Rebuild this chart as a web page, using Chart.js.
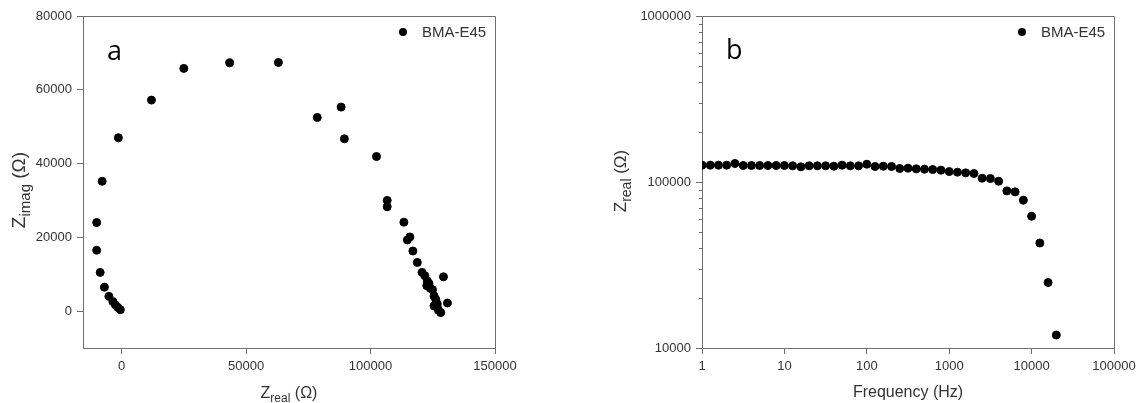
<!DOCTYPE html>
<html>
<head>
<meta charset="utf-8">
<script src="https://cdn.jsdelivr.net/npm/chart.js@4.4.0/dist/chart.umd.min.js"></script>
<style>
  html, body { margin: 0; padding: 0; background: #fff; }
  #wrapA { position: absolute; left: 0; top: 0; width: 560px; height: 403px; }
  #wrapB { position: absolute; left: 560px; top: 0; width: 583px; height: 403px; }
</style>
</head>
<body>
<div id="wrapA"><canvas id="nyquistChart" width="560" height="403"></canvas></div>
<div id="wrapB"><canvas id="bodeChart" width="583" height="403"></canvas></div>
<script>
const seriesLabel = "BMA-E45";

// panel a - Nyquist plot (Ohm)
const zReal = [-10000, -10000, -8600, -6900, -5100, -3500, -2500, -1500, -500,
  -7800, -1300, 12000, 25000, 43400, 63000, 78600, 88200, 89500, 102400, 106700, 106700,
  113400, 114800, 115800, 117000, 118800, 120700, 121800, 122800, 122600, 123500, 124000,
  124900, 125500, 126200, 126800, 125500, 126900, 127300, 128200, 129300, 130900];
const zImag = [24000, 16500, 10500, 6500, 4000, 2600, 1700, 1000, 400,
  35200, 47000, 57200, 65800, 67300, 67400, 52500, 55300, 46700, 41900, 30000, 28300,
  24100, 19300, 20100, 16300, 13200, 10500, 9600, 8200, 6900, 7500, 6200,
  5800, 4100, 3200, 2000, 1400, 1000, 200, -400, 9300, 2200];
const xTicksA = [0, 50000, 100000, 150000];
const yTicksA = [0, 20000, 40000, 60000, 80000];

// panel b - Zreal vs frequency
const freqHz = [1, 1.259, 1.585, 1.995, 2.512, 3.162, 3.981, 5.012, 6.31, 7.943,
  10, 12.59, 15.85, 19.95, 25.12, 31.62, 39.81, 50.12, 63.1, 79.43,
  100, 125.9, 158.5, 199.5, 251.2, 316.2, 398.1, 501.2, 631, 794.3,
  1000, 1259, 1585, 1995, 2512, 3162, 3981, 5012, 6310, 7943,
  10000, 12589, 15849, 19953];
const zRealB = [126300, 126300, 126300, 126300, 129200, 125700, 125700, 125700, 125700, 125700,
  125700, 125100, 123400, 125100, 125100, 125100, 124500, 126300, 125100, 125100,
  128000, 124000, 124500, 124000, 120600, 121100, 120000, 119500, 118900, 117800,
  115600, 114600, 113500, 112500, 105400, 104900, 101100, 88400, 87200, 77700,
  62200, 42900, 24800, 11970];
const xTicksB = [1, 10, 100, 1000, 10000, 100000];
const yTicksB = [10000, 100000, 1000000];
const yMinorTicksB = [20000, 30000, 40000, 50000, 60000, 70000, 80000, 90000,
  200000, 300000, 400000, 500000, 600000, 700000, 800000, 900000];

const FONT = "'Liberation Sans', Arial, sans-serif";
const TEXT = "#333333";
const AXIS = "#707070";

function drawRich(ctx, parts, x, y, angle) {
  ctx.save();
  ctx.translate(x, y);
  ctx.rotate(angle);
  ctx.textAlign = "left";
  ctx.textBaseline = "alphabetic";
  ctx.fillStyle = TEXT;
  let total = 0;
  parts.forEach(p => {
    ctx.font = p.size + "px " + FONT;
    p.w = ctx.measureText(p.text).width;
    total += p.w;
  });
  let cursor = -total / 2;
  parts.forEach(p => {
    ctx.font = p.size + "px " + FONT;
    ctx.fillText(p.text, cursor, p.dy || 0);
    cursor += p.w;
  });
  ctx.restore();
}

// frame, titles with subscripts, panel letter, legend, minor ticks
const decor = {
  id: "decor",
  afterDraw(chart, args, opts) {
    const ctx = chart.ctx;
    const a = chart.chartArea;
    ctx.save();
    ctx.strokeStyle = AXIS;
    ctx.lineWidth = 1;
    ctx.beginPath();
    ctx.moveTo(a.left, Math.round(a.top) + 0.5);
    ctx.lineTo(Math.round(a.right) + 0.5, Math.round(a.top) + 0.5);
    ctx.lineTo(Math.round(a.right) + 0.5, a.bottom);
    ctx.stroke();

    if (opts.minorTicks) {
      const ys = chart.scales.y;
      ctx.beginPath();
      opts.minorTicks.forEach(v => {
        const py = Math.round(ys.getPixelForValue(v)) + 0.5;
        ctx.moveTo(a.left - 3, py);
        ctx.lineTo(a.left, py);
      });
      ctx.stroke();
    }

    // panel letter
    ctx.fillStyle = "#000";
    ctx.font = "27px 'Open Sans', sans-serif";
    ctx.textBaseline = "alphabetic";
    ctx.fillText(opts.letter, opts.letterX, opts.letterY);

    // legend
    const ly = a.top + 16;
    ctx.beginPath();
    ctx.arc(a.right - 92, ly, 4, 0, Math.PI * 2);
    ctx.fill();
    ctx.fillStyle = TEXT;
    ctx.font = "15px " + FONT;
    ctx.textBaseline = "middle";
    ctx.fillText(chart.data.datasets[0].label, a.right - 73, ly + 1);
    ctx.restore();

    drawRich(ctx, opts.xTitle, (a.left + a.right) / 2, opts.xTitleY, 0);
    drawRich(ctx, opts.yTitle, opts.yTitleX, opts.yTitleY, -Math.PI / 2);
  }
};

function axis(ticksList, fitKey, fitSize, extra) {
  return Object.assign({
    grid: { display: true, drawOnChartArea: false, drawTicks: true, tickLength: 6, color: AXIS },
    border: { display: true, color: AXIS },
    ticks: {
      color: TEXT, padding: 5, autoSkip: false, maxRotation: 0,
      font: { family: FONT, size: 13 },
      callback: v => String(v)
    },
    afterBuildTicks: s => { s.ticks = ticksList.map(v => ({ value: v })); },
    afterFit: s => { s[fitKey] = fitSize; }
  }, extra);
}

const pointStyle = {
  showLine: false,
  pointRadius: 4,
  pointHoverRadius: 4,
  pointBackgroundColor: "#000",
  pointBorderColor: "#000",
  pointBorderWidth: 1
};

new Chart(document.getElementById("nyquistChart").getContext("2d"), {
  type: "scatter",
  data: {
    datasets: [Object.assign({
      label: seriesLabel,
      data: zReal.map((x, i) => ({ x: x, y: zImag[i] }))
    }, pointStyle)]
  },
  options: {
    responsive: false,
    animation: false,
    layout: { padding: { left: 0, top: 16, right: 65, bottom: 0 } },
    plugins: {
      legend: { display: false },
      tooltip: { enabled: false },
      decor: {
        letter: "a", letterX: 107, letterY: 60,
        xTitle: [{ text: "Z", size: 16 }, { text: "real", size: 12, dy: 4 }, { text: " (\u03A9)", size: 16 }],
        xTitleY: 398,
        yTitle: [{ text: "Z", size: 19 }, { text: "imag", size: 15, dy: 5 }, { text: " (\u03A9)", size: 19 }],
        yTitleX: 25, yTitleY: 190
      }
    },
    scales: {
      x: axis(xTicksA, "height", 55, { type: "linear", min: -15500, max: 150000 }),
      y: axis(yTicksA, "width", 83, { type: "linear", min: -10000, max: 80000 })
    }
  },
  plugins: [decor]
});

new Chart(document.getElementById("bodeChart").getContext("2d"), {
  type: "scatter",
  data: {
    datasets: [Object.assign({
      label: seriesLabel,
      data: freqHz.map((f, i) => ({ x: f, y: zRealB[i] }))
    }, pointStyle)]
  },
  options: {
    responsive: false,
    animation: false,
    layout: { padding: { left: 0, top: 16, right: 29, bottom: 0 } },
    plugins: {
      legend: { display: false },
      tooltip: { enabled: false },
      decor: {
        letter: "b", letterX: 166, letterY: 59,
        minorTicks: yMinorTicksB,
        xTitle: [{ text: "Frequency (Hz)", size: 16 }],
        xTitleY: 397,
        yTitle: [{ text: "Z", size: 17 }, { text: "real", size: 14, dy: 5 }, { text: " (\u03A9)", size: 17 }],
        yTitleX: 66, yTitleY: 181
      }
    },
    scales: {
      x: axis(xTicksB, "height", 55, { type: "logarithmic", min: 1, max: 100000 }),
      y: axis(yTicksB, "width", 142, { type: "logarithmic", min: 10000, max: 1000000 })
    }
  },
  plugins: [decor]
});
</script>
</body>
</html>
